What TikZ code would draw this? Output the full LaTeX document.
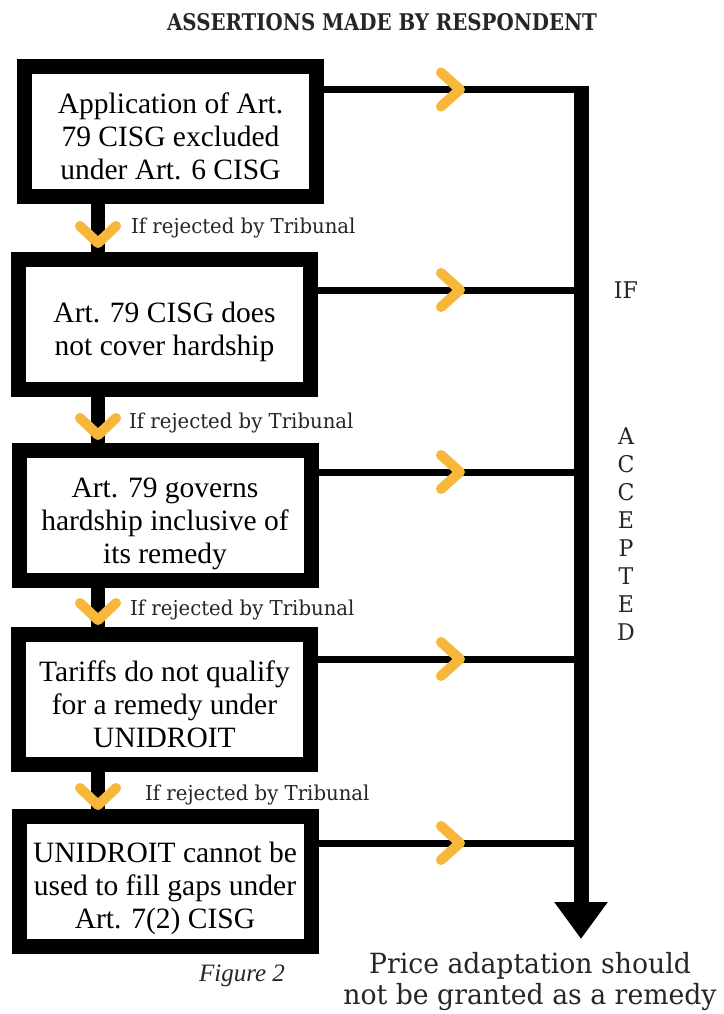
\documentclass[tikz,border=0pt]{standalone}
\usepackage{fontspec}
\setmainfont{Liberation Serif}
\newfontfamily\slab[FakeStretch=0.96]{DejaVu Serif}
\newfontfamily\slabtitle[FakeStretch=0.86]{DejaVu Serif}
\usetikzlibrary{arrows.meta}
\definecolor{chevyellow}{RGB}{247,183,58}
\newcommand{\boxtext}[1]{\raisebox{0pt}[\dimexpr\height+16pt\relax][\depth]{\begin{tabular}{@{}c@{}}#1\end{tabular}}}
\tikzset{
  box/.style={draw=black, fill=white, line width=15pt, inner sep=0pt, outer sep=0pt,
    minimum width=292pt, minimum height=130pt, align=center,
    font=\rmfamily\fontsize{29.5}{33}\selectfont},
  vconn/.style={draw=black, line width=14pt},
  hconn/.style={draw=black, line width=7pt},
  spine/.style={draw=black, line width=15pt, -{Triangle[width=51pt,length=37pt]}},
  chev/.style={draw=chevyellow, line width=10pt, line cap=round, line join=round},
  chevd/.pic={\draw[chev] (-18,-17) -- (0,0) -- (18,-17);},
  chevr/.pic={\draw[chev] (-19,-17) -- (0,0) -- (-19,17);},
  rejlabel/.style={anchor=west, inner sep=0pt, font=\slab\fontsize{20.5}{24}\selectfont, text=black!85},
  sidetext/.style={inner sep=0pt, font=\slab\fontsize{23}{28}\selectfont, text=black!85, align=center},
}
\begin{document}
\begin{tikzpicture}[x=1pt, y=-1pt]
\useasboundingbox[fill=white] (0,0) rectangle (723,1014);

% title
\node[inner sep=0pt, font=\slabtitle\bfseries\fontsize{23}{26}\selectfont, text=black!85] (title) at (382,22) {ASSERTIONS MADE BY RESPONDENT};

% spine coordinates
\coordinate (sp0) at (581,86);
\coordinate (s1) at (581,89.5);
\coordinate (s2) at (581,290);
\coordinate (s3) at (581,472);
\coordinate (s4) at (581,659);
\coordinate (s5) at (581,843);
\coordinate (tip) at (581,939);
\coordinate (vx) at (98,0);

% boxes
\node[box] (b1) at (170.5,131.5) {\boxtext{Application of Art.\\79 CISG excluded\\under Art. 6 CISG}};
\node[box] (b2) at (164.5,324.5) {\boxtext{Art. 79 CISG does\\not cover hardship}};
\node[box] (b3) at (165,515.5) {\boxtext{Art. 79 governs\\hardship inclusive of\\its remedy}};
\node[box] (b4) at (164.5,699.5) {\boxtext{Tariffs do not qualify\\for a remedy under\\UNIDROIT}};
\node[box] (b5) at (165,881) {\boxtext{UNIDROIT cannot be\\used to fill gaps under\\Art. 7(2) CISG}};

% vertical connectors between boxes
\draw[vconn] (vx |- b1.south) -- (vx |- b2.north);
\draw[vconn] (vx |- b2.south) -- (vx |- b3.north);
\draw[vconn] (vx |- b3.south) -- (vx |- b4.north);
\draw[vconn] (vx |- b4.south) -- (vx |- b5.north);

% horizontal connectors to spine
\draw[hconn] (b1.east |- s1) -- (s1);
\draw[hconn] (b2.east |- s2) -- (s2);
\draw[hconn] (b3.east |- s3) -- (s3);
\draw[hconn] (b4.east |- s4) -- (s4);
\draw[hconn] (b5.east |- s5) -- (s5);

% spine with arrow
\draw[spine] (sp0) -- (tip);

% chevrons
\pic at (98,243) {chevd};
\pic at (98,435) {chevd};
\pic at (98,620) {chevd};
\pic at (98,805) {chevd};
\pic at (460,89.5) {chevr};
\pic at (460,290) {chevr};
\pic at (460,472) {chevr};
\pic at (460,659) {chevr};
\pic at (460,843) {chevr};

% labels
\node[rejlabel] (r1) at (131,228) {If rejected by Tribunal};
\node[rejlabel] (r2) at (129,423) {If rejected by Tribunal};
\node[rejlabel] (r3) at (130,610) {If rejected by Tribunal};
\node[rejlabel] (r4) at (145,795) {If rejected by Tribunal};

\node[sidetext] (if) at (626,290) {IF};
\node[sidetext] (acc) at (626,534) {A\\C\\C\\E\\P\\T\\E\\D};

\node[inner sep=0pt, align=center, font=\slab\fontsize{27.8}{31}\selectfont, text=black!85] (res) at (530,982) {Price adaptation should\\not be granted as a remedy};

\node[inner sep=0pt, font=\rmfamily\itshape\fontsize{25}{28}\selectfont, text=black!85] (fig) at (242,976) {Figure 2};
\end{tikzpicture}
\end{document}
